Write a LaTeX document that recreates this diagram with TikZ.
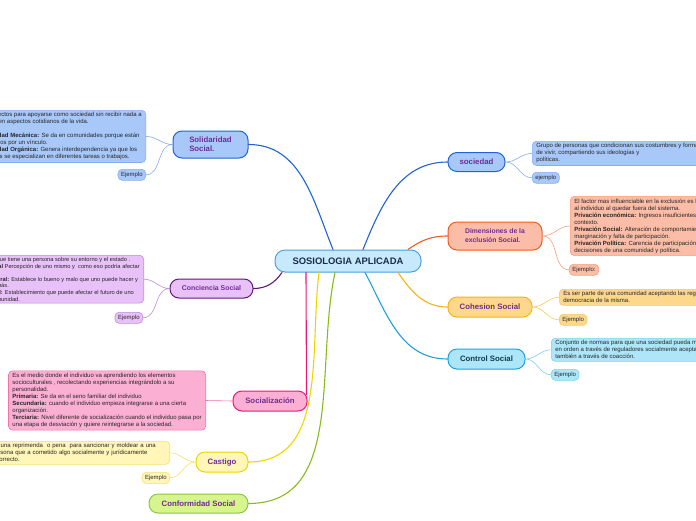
\documentclass[tikz,border=0pt]{standalone}
\usepackage{fontspec}
\setmainfont{Liberation Sans}
\definecolor{marino}{HTML}{1C2B4C}
\definecolor{morado}{HTML}{6F2C91}
\definecolor{cielo}{HTML}{C6E9FB}
\definecolor{cieloB}{HTML}{4D9FE0}
\definecolor{azul}{HTML}{1F63D6}
\definecolor{azulC}{HTML}{A8C8FA}
\definecolor{azulB}{HTML}{86AEEE}
\definecolor{naranja}{HTML}{F35B1C}
\definecolor{salmon}{HTML}{FBBDA7}
\definecolor{salmonB}{HTML}{F8A07E}
\definecolor{oro}{HTML}{F7B21B}
\definecolor{oroC}{HTML}{FDD88A}
\definecolor{oroB}{HTML}{FBC95E}
\definecolor{celeste}{HTML}{1BA1E2}
\definecolor{celesteC}{HTML}{AEE6F9}
\definecolor{celesteB}{HTML}{7FD0F0}
\definecolor{lila}{HTML}{62187A}
\definecolor{lilaC}{HTML}{E9C1F9}
\definecolor{lilaB}{HTML}{C08AD8}
\definecolor{rosa}{HTML}{EA167C}
\definecolor{rosaC}{HTML}{FBAFD3}
\definecolor{rosaB}{HTML}{F073AA}
\definecolor{amarillo}{HTML}{F0D400}
\definecolor{amarilloC}{HTML}{FFF6B8}
\definecolor{amarilloB}{HTML}{F4E06E}
\definecolor{verde}{HTML}{86BD1A}
\definecolor{verdeC}{HTML}{D7F58F}
\definecolor{verdeB}{HTML}{8CC63E}
\definecolor{teal}{HTML}{0F3D4A}
\begin{document}
\begin{tikzpicture}[x=1pt, y=-1pt, line join=round, line cap=round,
	tema/.style={draw, rounded corners=9pt, line width=1pt, text=morado, inner sep=2pt, minimum height=20pt,
		font=\fontsize{7.8}{9}\selectfont\bfseries},
	caja/.style={draw, rounded corners=4pt, line width=0.6pt, text=black!85, align=left, inner xsep=4pt, inner ysep=2.3pt,
		font=\fontsize{6}{7}\selectfont},
	ejem/.style={caja, minimum height=11pt, inner xsep=3pt, inner ysep=1pt},
	rama/.style={line width=1.1pt},
	hoja/.style={line width=0.6pt}]
	\useasboundingbox (0,0) rectangle (696,520);
	\clip (0,0) rectangle (696,520);
	% nodo central
	\node[tema, fill=cielo, draw=cieloB, text=marino, minimum width=146pt, minimum height=22pt, rounded corners=10pt,
		font=\fontsize{9.4}{11}\selectfont\bfseries] (main) at (348,261) {SOSIOLOGIA APLICADA};
	% derecha
	\node[tema, fill=azulC, draw=azul, minimum width=57pt, minimum height=19pt] (soc) at (476.5,162) {sociedad};
	\node[caja, fill=azulC, draw=azulB, anchor=north west] (socT) at (532,141) {Grupo de personas que condicionan sus costumbres y forma\\de vivir, compartiendo sus ideologías y\\políticas.};
	\node[ejem, fill=azulC, draw=azulB, anchor=north west] (socE) at (532,172) {ejemplo};
	\node[tema, fill=salmon, draw=naranja, minimum width=94pt, minimum height=28pt, align=left,
		font=\fontsize{6.8}{9}\selectfont\bfseries] (dim) at (495,236) {Dimensiones de la\\exclusión Social.};
	\node[caja, fill=salmon, draw=salmonB, anchor=north west] (dimT) at (570,196) {El factor mas influenciable en la exclusión es la sociedad que afecta\\al individuo al quedar fuera del sistema.\\\textbf{Privación económica:} Ingresos insuficientes en relación al\\contexto.\\\textbf{Privación Social:} Alteración de comportamientos sociales,\\marginación y falta de participación.\\\textbf{Privación Política:} Carencia de participación en las\\decisiones de una comunidad y política.};
	\node[ejem, fill=salmon, draw=salmonB, anchor=north west] (dimE) at (569,264) {Ejemplo:};
	\node[tema, fill=oroC, draw=oro, minimum width=84pt] (coh) at (490,307) {Cohesion Social};
	\node[caja, fill=oroC, draw=oroB, anchor=north west] (cohT) at (559,289) {Es ser parte de una comunidad aceptando las reglas de la\\democracia de la misma.};
	\node[ejem, fill=oroC, draw=oroB, anchor=north west] (cohE) at (559,314) {Ejemplo};
	\node[tema, fill=celesteC, draw=celeste, text=teal, minimum width=77pt] (con) at (486.5,359) {Control Social};
	\node[caja, fill=celesteC, draw=celesteB, anchor=north west] (conT) at (551,338) {Conjunto de normas para que una sociedad pueda mantenerse\\en orden a través de reguladores socialmente aceptados y\\también a través de coacción.};
	\node[ejem, fill=celesteC, draw=celesteB, anchor=north west] (conE) at (551,369) {Ejemplo};
	% izquierda
	\node[tema, fill=azulC, draw=azul, minimum width=75pt, minimum height=27pt, align=left] (sol) at (210.5,144.5) {Solidaridad\\Social.};
	\node[caja, fill=azulC, draw=azulB, anchor=north east] (solT) at (146,110) {Son aspectos para apoyarse como sociedad sin recibir nada a\\cambio, en aspectos cotidianos  de la vida.\\[7pt]\textbf{Solidaridad Mecánica:} Se da en comunidades porque están\\conectados por un vínculo.\\\textbf{Solidaridad Orgánica:} Genera interdependencia ya que los\\individuos se especializan  en diferentes tareas o trabajos.};
	\node[ejem, fill=azulC, draw=azulB, anchor=north east] (solE) at (146,169) {Ejemplo};
	\node[tema, fill=lilaC, draw=lila, minimum width=83pt, minimum height=19pt,
		font=\fontsize{6.9}{9}\selectfont\bfseries] (conc) at (211.5,288.5) {Conciencia Social};
	\node[caja, fill=lilaC, draw=lilaB, anchor=north east, inner ysep=2pt, font=\fontsize{5.7}{6.6}\selectfont] (concT) at (144,255) {La idea que tiene una persona sobre su entorno y el estado .\\\textbf{Individual} Percepción de uno mismo y\ \ como eso podría afectar\\[6.6pt]\textbf{Ética moral:} Establece lo bueno y malo que uno puede hacer y\\a los demás.\\\textbf{Comunal:} Establecimiento que puede afectar el futuro de uno\\de la comunidad.};
	\node[ejem, fill=lilaC, draw=lilaB, anchor=north east] (concE) at (143,312) {Ejemplo};
	\node[tema, fill=rosaC, draw=rosa, minimum width=74pt] (sz) at (270,401) {Socialización};
	\node[caja, fill=rosaC, draw=rosaB, anchor=east] (szT) at (206,400.5) {Es el medio donde el individuo va aprendiendo los elementos\\socioculturales , recolectando experiencias integrándolo a su\\personalidad.\\\textbf{Primaria:} Se da en el seno familiar del individuo\\\textbf{Secundaria:} cuando el individuo empieza integrarse a una cierta\\organización.\\\textbf{Terciaria:} Nivel diferente de socialización cuando el individuo pasa por\\una etapa de desviación y quiere reintegrarse a la sociedad.};
	\node[tema, fill=amarilloC, draw=amarillo, minimum width=52pt] (cas) at (222,462) {Castigo};
	\node[caja, fill=amarilloC, draw=amarilloB, anchor=north east, text width=174pt] (casT) at (170,441) {Es una reprimenda\ \ o pena\ \ para sancionar y moldear a una\\persona que a cometido algo socialmente y jurídicamente\\incorrecto.};
	\node[ejem, fill=amarilloC, draw=amarilloB, anchor=north east] (casE) at (170,472) {Ejemplo};
	\node[tema, fill=verdeC, draw=verdeB, minimum width=99pt, minimum height=19pt] (conf) at (198.5,503.5) {Conformidad Social};
	% ramas
	\draw[rama, azul] ([xshift=15]main.north) to[out=68, in=180] (soc.west);
	\draw[rama, azul] ([xshift=-15]main.north) to[out=112, in=0] (sol.east);
	\draw[rama, naranja] ([xshift=60]main.north) to[out=35, in=180] (dim.west);
	\draw[rama, oro] ([xshift=50]main.south) to[out=-55, in=180] (coh.west);
	\draw[rama, celeste] ([xshift=17]main.south) to[out=-62, in=180] (con.west);
	\draw[rama, lila] ([xshift=-66]main.south) to[out=-125, in=0] (conc.east);
	\draw[rama, rosa] ([xshift=-42]main.south) -- ([xshift=-1,yshift=-4]sz.north east);
	\draw[rama, amarillo] ([xshift=-29]main.south) to[out=-97, in=0] (cas.east);
	\draw[rama, verde] ([xshift=-13]main.south) to[out=-102, in=0] (conf.east);
	% hojas
	\draw[hoja, azulB] (soc.east) to[out=0, in=180] (socT.west) (soc.east) to[out=0, in=180] (socE.west);
	\draw[hoja, salmonB] (dim.east) to[out=0, in=180] (dimT.west) (dim.east) to[out=0, in=180] (dimE.west);
	\draw[hoja, oroB] (coh.east) to[out=0, in=180] (cohT.west) (coh.east) to[out=0, in=180] (cohE.west);
	\draw[hoja, celesteB] (con.east) to[out=0, in=180] (conT.west) (con.east) to[out=0, in=180] (conE.west);
	\draw[hoja, azulB] (sol.west) to[out=180, in=0] (solT.east) (sol.west) to[out=180, in=0] (solE.east);
	\draw[hoja, lilaB] (conc.west) to[out=180, in=0] (concT.east) (conc.west) to[out=180, in=0] (concE.east);
	\draw[hoja, rosaB] (sz.west) -- (szT.east);
	\draw[hoja, amarilloB] (cas.west) to[out=180, in=0] (casT.east) (cas.west) to[out=180, in=0] (casE.east);
\end{tikzpicture}
\end{document}
